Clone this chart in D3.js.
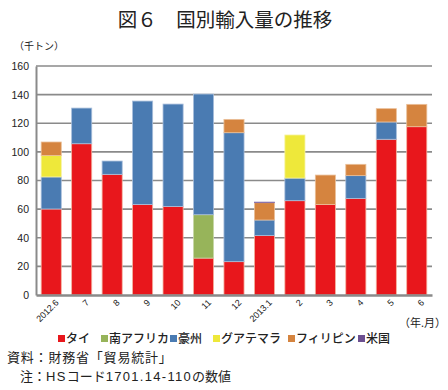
<!DOCTYPE html>
<html><head><meta charset="utf-8">
<script src="https://cdn.jsdelivr.net/npm/d3@7"></script>
<style>
body{margin:0;background:#fff;}
svg{display:block;font-family:"Noto Sans CJK JP","Noto Sans",sans-serif;}
</style></head>
<body><svg id="c" width="448" height="390"></svg>
<script>
const months = ["2012.6","7","8","9","10","11","12","2013.1","2","3","4","5","6"];
const seriesNames = ["タイ","南アフリカ","豪州","グアテマラ","フィリピン","米国"];
const thai        = [60.1,105.7,84.3,63.3,61.9,25.8,23.3,41.5,65.9,63.3,67.5,108.8,117.6];
const southAfrica = [0,0,0,0,0,30.3,0,0,0,0,0,0,0];
const australia   = [22.4,24.9,9.3,72.2,71.5,84.3,90.1,10.9,15.8,0,15.9,12.1,0];
const guatemala   = [15.0,0,0,0,0,0,0,0,30.1,0,0,0,0];
const philippines = [9.4,0,0,0,0,0,9.3,12.1,0,20.5,7.9,9.3,15.6];
const usa         = [0,0,0,0,0,0,0,0.4,0,0,0,0,0];
const yTicks = [0,20,40,60,80,100,120,140,160];
const colors = ["#e8171c","#97b45a","#4a7bb2","#eee83a","#d5843f","#6c4f90"];
const strokes = ["#f3b3a0","#c8d8a8","#a8bedb","#f6f2a0","#eabf98","#8c74aa"];

const seriesVals = [thai,southAfrica,australia,guatemala,philippines,usa];
const table = months.map((m,i)=>{const o={m}; seriesNames.forEach((s,j)=>o[s]=seriesVals[j][i]); return o;});
const stack = d3.stack().keys(seriesNames)(table);

const svg = d3.select("#c");
const L=36,R=432,T=66,B=295;
const x = d3.scaleBand().domain(months).range([L,R]).paddingInner(0.34).paddingOuter(0.17);
const y = d3.scaleLinear().domain([0,160]).range([B,T]);

svg.append("text").attr("x",225).attr("y",27).attr("text-anchor","middle")
  .attr("font-size",19.5).attr("font-weight",400).attr("fill","#222").text("図６　国別輸入量の推移");
svg.append("text").attr("x",14).attr("y",50).attr("font-size",10).attr("fill","#222").text("（千トン）");

// gridlines
svg.append("g").selectAll("line").data(yTicks.filter(d=>d>0)).join("line")
  .attr("x1",L).attr("x2",R).attr("y1",d=>y(d)).attr("y2",d=>y(d))
  .attr("stroke","#8a8a8a").attr("stroke-width",1.6);

// y axis
const ya = svg.append("g").attr("transform",`translate(${L},0)`)
  .call(d3.axisLeft(y).tickValues(yTicks).tickSize(0).tickPadding(7));
ya.select(".domain").attr("stroke","#8a8a8a").attr("stroke-width",2);
ya.selectAll("text").attr("font-size",10.5).attr("fill","#222").attr("font-family","Liberation Sans, Arial, sans-serif");

// bars
svg.append("g").selectAll("g").data(stack).join("g")
  .attr("fill",(d,i)=>colors[i]).attr("stroke",(d,i)=>strokes[i])
  .selectAll("rect").data(d=>d.filter(p=>p[1]-p[0]>0)).join("rect")
  .attr("x",d=>x(d.data.m)).attr("width",x.bandwidth())
  .attr("y",d=>y(d[1])).attr("height",d=>y(d[0])-y(d[1]))
  .attr("stroke-width",0.8);

// x axis
const xa = svg.append("g").attr("transform",`translate(0,${B})`)
  .call(d3.axisBottom(x).tickSize(0).tickPadding(6));
xa.select(".domain").attr("stroke","#8a8a8a").attr("stroke-width",2.4);
xa.selectAll("text").attr("font-size",9).attr("fill","#222")
  .attr("font-family","Liberation Sans, Arial, sans-serif")
  .attr("text-anchor","end").attr("dy","0.3em")
  .attr("transform","translate(2,2) rotate(-45)");

svg.append("text").attr("x",446).attr("y",327).attr("text-anchor","end")
  .attr("font-size",11).attr("fill","#222").text("（年.月）");

// legend
const legX = [58,101,170,213,288,358];
const lg = svg.append("g").selectAll("g").data(seriesNames).join("g")
  .attr("transform",(d,i)=>`translate(${legX[i]},339)`);
lg.append("rect").attr("x",0).attr("y",-4).attr("width",7).attr("height",7).attr("fill",(d,i)=>colors[i]);
lg.append("text").attr("x",8).attr("y",0).attr("dy","0.35em").attr("font-size",12)
  .attr("font-weight",500).attr("fill","#222").text(d=>d);

svg.append("text").attr("x",7).attr("y",362).attr("font-size",13).attr("letter-spacing",0.8)
  .attr("fill","#222").text("資料：財務省「貿易統計」");
const note = svg.append("text").attr("x",20).attr("y",381).attr("font-size",13).attr("fill","#222");
[["注：",false],["HS",true],["コード",false],["1701.14-110",true],["の数値",false]].forEach(([t,latin])=>{
  const ts = note.append("tspan").text(t);
  if(latin) ts.attr("font-family","Liberation Sans, Arial, sans-serif").attr("letter-spacing",1.3);
});
</script></body></html>
